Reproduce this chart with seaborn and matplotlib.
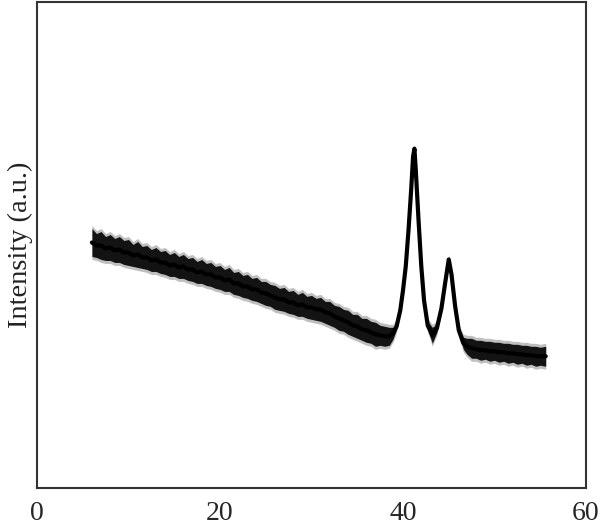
import numpy as np
import pandas as pd
import matplotlib
matplotlib.use("Agg")
import matplotlib.pyplot as plt
import seaborn as sns

# 2-theta positions (degrees) and intensity (a.u.)
two_theta = [6.0, 6.5, 7.0, 7.5, 8.0, 8.5, 9.0, 9.5, 10.0, 10.5, 11.0, 11.5, 12.0, 12.5,
             13.0, 13.5, 14.0, 14.5, 15.0, 15.5, 16.0, 16.5, 17.0, 17.5, 18.0, 18.5,
             19.0, 19.5, 20.0, 20.5, 21.0, 21.5, 22.0, 22.5, 23.0, 23.5, 24.0, 24.5,
             25.0, 25.5, 26.0, 26.5, 27.0, 27.5, 28.0, 28.5, 29.0, 29.5, 30.0, 30.5,
             31.0, 31.5, 32.0, 32.5, 33.0, 33.5, 34.0, 34.5, 35.0, 35.5, 36.0, 36.5,
             37.0, 37.5, 38.0, 38.5, 38.9, 39.3, 39.7, 40.0, 40.3, 40.6, 40.9, 41.1,
             41.25, 41.4, 41.7, 42.0, 42.3, 42.7, 43.2, 43.7, 44.2, 44.6, 45.0, 45.3,
             45.7, 46.1, 46.6, 47.0, 47.5, 48.0, 48.5, 49.0, 49.5, 50.0, 50.5, 51.0,
             51.5, 52.0, 52.5, 53.0, 53.5, 54.0, 54.5, 55.0, 55.6]
intensity = [246, 243, 243, 240, 241, 238, 239, 236, 236, 233, 234, 231, 231, 228,
             229, 226, 226, 223, 224, 221, 222, 219, 219, 216, 217, 214, 214, 211,
             211, 208, 209, 205, 205, 202, 202, 199, 199, 196, 195, 193, 191, 189,
             189, 186, 186, 183, 184, 181, 181, 179, 179, 176, 175, 172, 170, 168,
             166, 163, 162, 159, 158, 156, 154, 153, 152, 152, 155, 162, 178, 198,
             222, 258, 300, 332, 340, 318, 268, 222, 188, 163, 153, 160, 180, 205,
             229, 214, 182, 158, 145, 142, 140, 139, 138, 138, 137, 137, 136, 136,
             135, 135, 134, 134, 133, 133, 132, 132, 132]
# half thickness of the noisy band (a.u.)
noise_half = [14, 12, 14, 12, 13, 12, 13, 12, 13, 11, 13, 11, 12, 11,
              12, 11, 12, 11, 12, 11, 12, 11, 12, 11, 12, 11, 12, 11,
              12, 11, 12, 11, 12, 11, 12, 11, 12, 11, 12, 11, 12, 11,
              12, 11, 12, 11, 12, 11, 12, 11, 12, 11, 12, 11, 12, 11,
              12, 11, 12, 11, 12, 11, 12, 10, 10, 9, 6, 3, 2, 2,
              2, 2, 2, 2, 2, 2, 2, 2, 2, 4, 8, 4, 2, 2,
              2, 2, 2, 3, 6, 8, 10, 9, 10, 9, 10, 9, 10, 9,
              10, 9, 10, 9, 10, 9, 10, 9, 10]

x_ticks = [0, 20, 40, 60]

df = pd.DataFrame({"two_theta": two_theta, "intensity": intensity, "half": noise_half})

sns.set_theme(style="white")
plt.rcParams["font.family"] = ["Liberation Serif", "DejaVu Serif"]

fig = plt.figure(figsize=(6.0, 5.31), dpi=100)
ax = fig.add_axes([37 / 600, (531 - 488) / 531, (586 - 37) / 600, (488 - 2) / 531])

lo = df["intensity"] - df["half"]
hi = df["intensity"] + df["half"]
ax.fill_between(df["two_theta"], lo - 3, hi + 3, color="black", alpha=0.25, lw=0)
ax.fill_between(df["two_theta"], lo, hi, color="black", alpha=0.9, lw=0)
sns.lineplot(data=df, x="two_theta", y="intensity", ax=ax, color="black", lw=3.0)

ax.set_xlim(0, 60)
ax.set_ylim(0, 487)
ax.set_xticks(x_ticks)
ax.set_xticklabels([str(t) for t in x_ticks], fontsize=20)
ax.set_yticks([])
ax.tick_params(axis="x", length=0, pad=9)
ax.set_xlabel("")
ax.set_ylabel("Intensity (a.u.)", fontsize=20.5, labelpad=3, color="#222222")
for s in ax.spines.values():
    s.set_visible(True)
    s.set_color("#333333")
    s.set_linewidth(1.5)

fig.savefig("out.png", dpi=100)
